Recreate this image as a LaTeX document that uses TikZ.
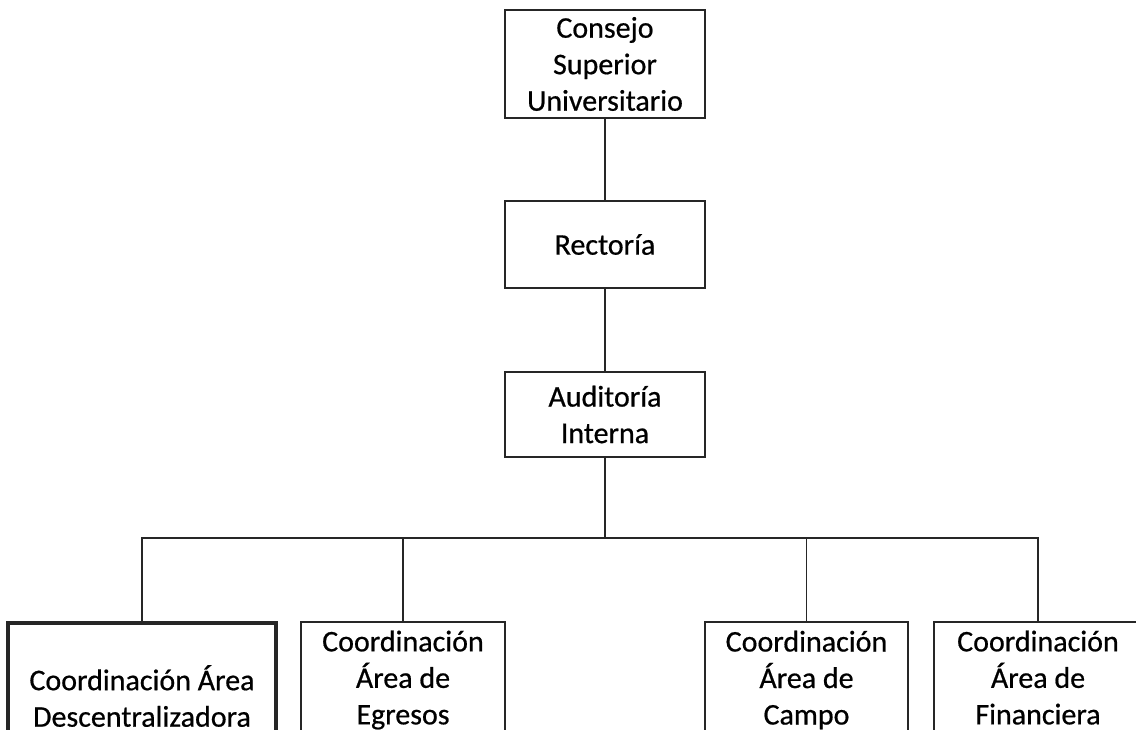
\documentclass[tikz,border=0pt]{standalone}
\usepackage{fontspec}
\setmainfont{Carlito}
\newfontfamily\scanfont{Carlito}[FakeBold=0.6]
\begin{document}
\begin{tikzpicture}[x=1pt,y=-1pt,
  box/.style={draw=black!85, line width=1.5pt, inner sep=0pt, align=center,
    font=\scanfont\fontsize{30}{36.5}\selectfont, text=black},
  topbox/.style={box, minimum width=200pt},
  lowbox/.style={box, minimum height=116pt},
  link/.style={draw=black!85, line width=1.5pt}]
\useasboundingbox (0,0) rectangle (1136,729);
\clip (0,0) rectangle (1136,729);
\node[topbox, minimum height=108pt] (csu) at (605,64) {Consejo\\Superior\\Universitario};
\node[topbox, minimum height=87pt] (rect) at (605,244.5) {Rector\'ia};
\node[topbox, minimum height=85pt] (aud) at (605,414.5) {Auditor\'ia\\Interna};
\node[box, line width=3.5pt, minimum width=268pt, minimum height=146pt] (d1) at (142,696) {Coordinaci\'on \'Area\\Descentralizadora};
\node[lowbox, minimum width=204pt] (d2) at (403,680) {Coordinaci\'on\\\'Area de\\Egresos};
\node[lowbox, minimum width=203pt] (d3) at (806.5,680) {Coordinaci\'on\\\'Area de\\Campo};
\node[lowbox, minimum width=208pt] (d4) at (1038,680) {Coordinaci\'on\\\'Area de\\Financiera\vphantom{g}};
\coordinate (bus) at (605,538);
\draw[link] (csu.south) -- (rect.north);
\draw[link] (rect.south) -- (aud.north);
\draw[link] (aud.south) -- (bus);
\draw[link] (d1.north) |- (bus) -| (d4.north);
\draw[link] (d2.north) -- (d2.north |- bus);
\draw[link] (d3.north) -- (d3.north |- bus);
\end{tikzpicture}
\end{document}
